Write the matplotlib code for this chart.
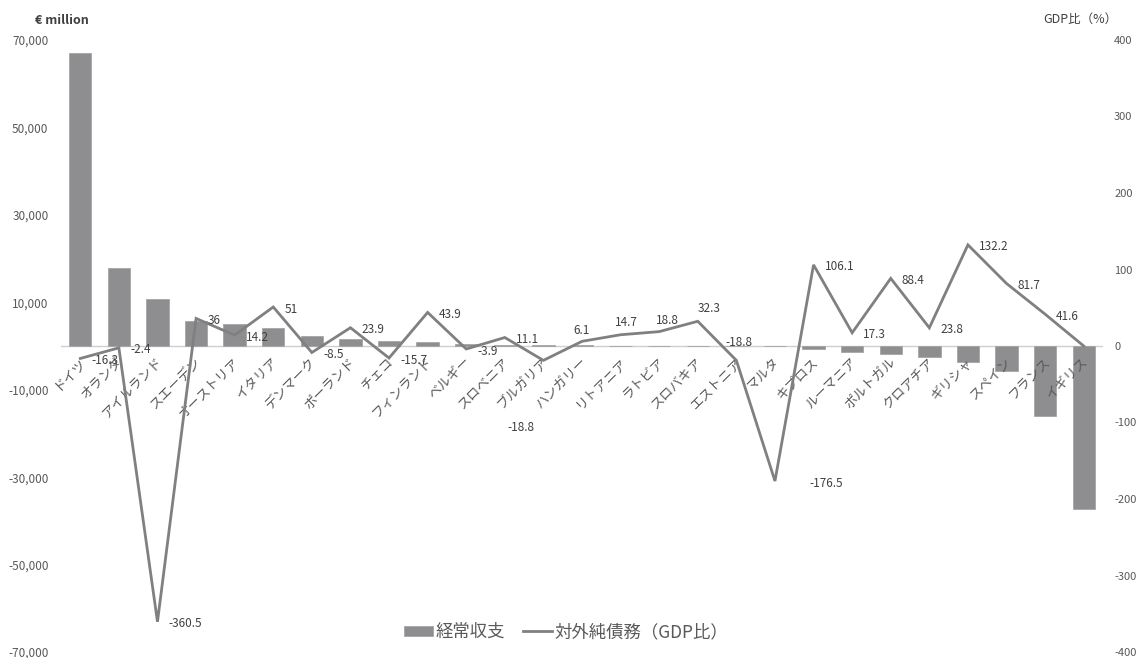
import matplotlib
matplotlib.use("Agg")
import matplotlib.pyplot as plt
from matplotlib.patches import Patch
from matplotlib.lines import Line2D
from matplotlib.ticker import FuncFormatter

plt.rcParams['font.family'] = ['Noto Sans CJK JP', 'DejaVu Sans']

# 国名（左から経常黒字の大きい順）
countries = ["ドイツ", "オランダ", "アイルランド", "スエーデン", "オーストリア", "イタリア",
             "デンマーク", "ポーランド", "チェコ", "フィンランド", "ベルギー", "スロベニア",
             "ブルガリア", "ハンガリー", "リトアニア", "ラトビア", "スロバキア", "エストニア",
             "マルタ", "キプロス", "ルーマニア", "ポルトガル", "クロアチア", "ギリシャ",
             "スペイン", "フランス", "イギリス"]

# 経常収支（€ million）
current_account = [67000, 17900, 10800, 5800, 5100, 4100,
                   2300, 1550, 1200, 850, 500, 300,
                   200, 150, 100, 80, 60, 40,
                   30, -750, -1300, -1900, -2500, -3650,
                   -5700, -16000, -37300]

# 対外純債務（GDP比, %）
net_external_debt = [-16.3, -2.4, -360.5, 36, 14.2, 51,
                     -8.5, 23.9, -15.7, 43.9, -3.9, 11.1,
                     -18.8, 6.1, 14.7, 18.8, 32.3, -18.8,
                     -176.5, 106.1, 17.3, 88.4, 23.8, 132.2,
                     81.7, 41.6, 0]

# 値ラベルを付ける国（イギリスは表示なし）
show_label = [True] * 26 + [False]

# ラベル位置の個別調整（offset points, ha, va）
label_pos = {
    "ハンガリー": (0, 8, "center", "center"),
    "リトアニア": (4, 9, "center", "center"),
    "ラトビア": (6, 8, "center", "center"),
    "スロバキア": (8, 9, "center", "center"),
    "エストニア": (2, 13, "center", "center"),
    "ブルガリア": (-16, -48, "center", "center"),
    "マルタ": (25, -2, "left", "center"),
}

W, H = 1141, 658
fig = plt.figure(figsize=(W / 100, H / 100), dpi=100)

x0, x1, ytop, ybot = 61, 1103, 40, 652
ax = fig.add_axes([x0 / W, 1 - ybot / H, (x1 - x0) / W, (ybot - ytop) / H])
ax2 = ax.twinx()

bar_color = "#8e8e90"
line_color = "#808080"
tick_color = "#595959"
label_color = "#404040"

idx = list(range(len(countries)))
ax.bar(idx, current_account, width=0.58, color=bar_color,
       edgecolor="#a5a5a8", linewidth=0.6, zorder=2)
ax.axhline(0, color="#cfcfcf", lw=1.0, zorder=1)

ax2.plot(idx, net_external_debt, color=line_color, lw=2.0, zorder=3,
         solid_joinstyle="miter")

ax.set_xlim(-0.5, len(countries) - 0.5)
ax.set_ylim(-70000, 70000)
ax2.set_ylim(-400, 400)
ax.set_yticks(list(range(-70000, 70001, 20000)))
ax2.set_yticks(list(range(-400, 401, 100)))
ax.yaxis.set_major_formatter(FuncFormatter(lambda v, p: f"{int(v):,}"))
ax2.yaxis.set_major_formatter(FuncFormatter(lambda v, p: f"{int(v)}"))
ax.set_xticks([])

for a in (ax, ax2):
    for s in a.spines.values():
        s.set_visible(False)
ax.tick_params(axis="y", length=0, pad=9, labelsize=8.5, labelcolor=tick_color)
ax2.tick_params(axis="y", length=0, pad=8, labelsize=8, labelcolor=tick_color)

# 国名ラベル（斜め 45°、ゼロ線の下）
for i, name in enumerate(countries):
    ax.annotate(name, xy=(i, 0), xytext=(2, -10), textcoords="offset points",
                rotation=45, rotation_mode="anchor", ha="right", va="center",
                fontsize=9.5, color=tick_color, zorder=4)

# 値ラベル
for i, (name, v) in enumerate(zip(countries, net_external_debt)):
    if not show_label[i]:
        continue
    dx, dy, ha, va = label_pos.get(name, (8, -1.5, "left", "center"))
    txt = f"{v:g}"
    ax2.annotate(txt, xy=(i, v), xytext=(dx, dy), textcoords="offset points",
                 ha=ha, va=va, fontsize=8.5, color=label_color, zorder=5)

fig.text(35 / W, 1 - 21 / H, "€ million", fontsize=9, fontweight="bold",
         color=label_color, ha="left", va="center")
fig.text(1043 / W, 1 - 19 / H, "GDP比（%）", fontsize=9,
         color=label_color, ha="left", va="center")

handles = [Patch(facecolor=bar_color, edgecolor="#a5a5a8", linewidth=0.6),
           Line2D([0], [0], color=line_color, lw=2.0)]
fig.legend(handles, ["経常収支", "対外純債務（GDP比）"],
           loc="center", bbox_to_anchor=(566 / W, 1 - 632 / H), ncol=2,
           frameon=False, fontsize=12.5, handlelength=1.7, handleheight=0.5,
           handletextpad=0.15, columnspacing=1.0, labelcolor=tick_color)

fig.savefig("out.png", dpi=100)
